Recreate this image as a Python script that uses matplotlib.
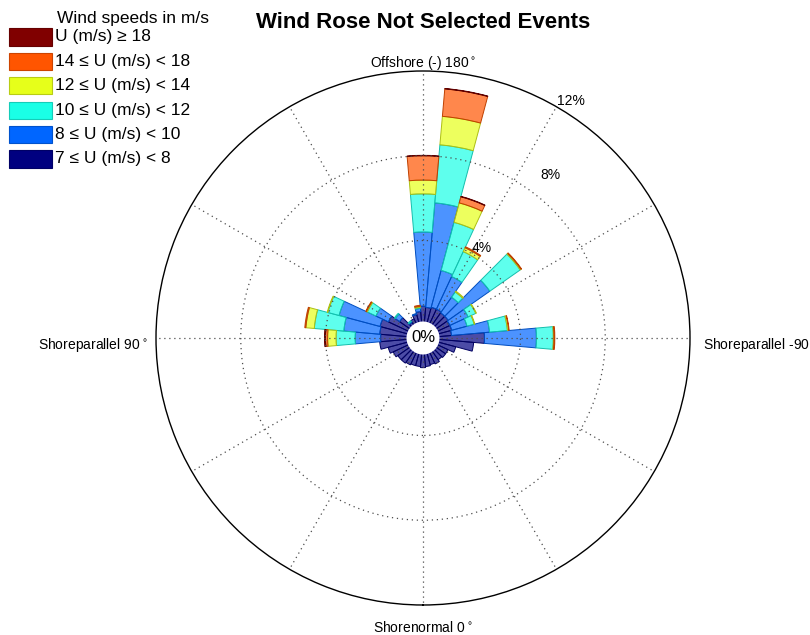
import numpy as np
import matplotlib
matplotlib.use("Agg")
import matplotlib.pyplot as plt
from matplotlib.patches import Rectangle, Circle
from matplotlib.colors import to_rgba

plt.rcParams['font.family'] = ['Liberation Sans', 'DejaVu Sans']

# direction bins (deg), 10 deg sectors
directions = np.arange(0, 360, 10)

# frequency (%) per direction for each speed class
freq_7_8 = [0.8, 0.75, 0.75, 0.8, 0.85, 0.85, 0.95, 1.1, 1.45, 1.4,
            1.45, 1.5, 1.2, 0.75, 0.3, 0.4, 0.55, 0.65, 0.9, 0.85,
            0.9, 0.9, 0.85, 0.85, 0.8, 0.8, 0.75, 2.3, 1.8, 1.0,
            0.7, 0.7, 0.65, 0.75, 0.7, 0.75]
freq_8_10 = [0, 0, 0, 0, 0, 0, 0, 0, 0, 1.2,
             1.7, 2.0, 0.65, 0.25, 0.05, 0, 0.05, 0.15, 3.5, 4.95,
             1.8, 1.7, 0.9, 2.4, 0.95, 0.75, 1.8, 2.45, 0, 0,
             0, 0, 0, 0, 0, 0]
freq_10_12 = [0, 0, 0, 0, 0, 0, 0, 0, 0, 0.9,
              1.4, 0.55, 0.45, 0.05, 0.05, 0, 0, 0.05, 1.8, 2.75,
              2.35, 1.3, 0.3, 1.75, 0.4, 0.35, 0.85, 0.8, 0, 0,
              0, 0, 0, 0, 0, 0]
freq_12_14 = [0, 0, 0, 0, 0, 0, 0, 0, 0, 0.4,
              0.4, 0.03, 0.05, 0, 0, 0, 0, 0.05, 0.65, 1.35,
              0.95, 0.2, 0.05, 0.05, 0.03, 0.03, 0.06, 0.03, 0, 0,
              0, 0, 0, 0, 0, 0]
freq_14_18 = [0, 0, 0, 0, 0, 0, 0, 0, 0, 0.1,
              0.05, 0, 0.03, 0, 0, 0, 0, 0.05, 1.15, 1.3,
              0.3, 0.05, 0, 0.03, 0, 0, 0.02, 0.04, 0, 0,
              0, 0, 0, 0, 0, 0]
freq_18 = [0, 0, 0, 0, 0, 0, 0, 0, 0, 0.05,
           0, 0, 0, 0, 0, 0, 0, 0, 0.02, 0.02,
           0.02, 0, 0, 0, 0, 0, 0, 0, 0, 0,
           0, 0, 0, 0, 0, 0]

classes = [freq_7_8, freq_8_10, freq_10_12, freq_12_14, freq_14_18, freq_18]
class_colors = ["#000080", "#0066ff", "#1affe6", "#e6ff1a", "#ff5500", "#800000"]
class_labels = ["7 \u2264 U (m/s) < 8", "8 \u2264 U (m/s) < 10",
                "10 \u2264 U (m/s) < 12", "12 \u2264 U (m/s) < 14",
                "14 \u2264 U (m/s) < 18", "U (m/s) \u2265 18"]
ring_values = [4, 8, 12]

fig = plt.figure(figsize=(8.1, 6.35), dpi=100)
W, H = 810, 635
cx, cy, R = 423, 338, 267
ax = fig.add_axes([(cx - R) / W, (H - cy - R) / H, 2 * R / W, 2 * R / H],
                  projection="polar")
ax.set_theta_zero_location("S")
ax.set_theta_direction(-1)
ax.set_rorigin(-0.6)
ax.set_ylim(0, 12)

theta = np.deg2rad(directions)
width = np.deg2rad(10)
bottom = np.zeros(len(directions))
for vals, col in zip(classes, class_colors):
    vals = np.asarray(vals, dtype=float)
    m = vals > 0
    edge = tuple(np.array(to_rgba(col)[:3]) * 0.75)
    ax.bar(theta[m], vals[m], width=width, bottom=bottom[m],
           facecolor=to_rgba(col, 0.7), edgecolor=edge, linewidth=0.7,
           zorder=2)
    bottom += vals

# grid
ax.set_thetagrids(np.arange(0, 360, 30), labels=[""] * 12)
ax.set_rgrids([4, 8], labels=["", ""])
ax.grid(True, linestyle=(0, (1, 3)), color="0.3", linewidth=0.9, zorder=3)
ax.set_axisbelow(False)
ax.spines["polar"].set_linewidth(1.0)
ax.spines["polar"].set_color("black")
ax.spines["inner"].set_visible(False)
ax.tick_params(length=0)

# white disk in the middle (outside the annular clip of the axes)
ax.add_artist(Circle((0.5, 0.5), 16.5 / (2 * R), transform=ax.transAxes,
                     facecolor="white", edgecolor="none", zorder=4,
                     clip_on=False))
ax.text(0.5, 0.5, "0%", transform=ax.transAxes, fontsize=12,
        ha="center", va="center", zorder=5, clip_on=False)

# ring labels
ring_pos = [(213, 4.45), (218, 9.15), (212, 12.6)]
for val, (ang, r) in zip(ring_values, ring_pos):
    ax.text(np.deg2rad(ang), r, f"{val}%", fontsize=10, ha="center",
            va="center", zorder=5)

# direction labels
fig.text(cx / W, 1 - 63 / H, r"Offshore (-) 180$^\circ$", fontsize=10,
         ha="center", va="center")
fig.text(148 / W, 1 - 345 / H, r"Shoreparallel 90$^\circ$", fontsize=10,
         ha="right", va="center")
fig.text(703 / W, 1 - 345 / H, r"Shoreparallel -90$^\circ$", fontsize=10,
         ha="left", va="center")
fig.text(cx / W, 1 - 627 / H, r"Shorenormal 0$^\circ$", fontsize=10,
         ha="center", va="center")

fig.text(cx / W, 1 - 22 / H, "Wind Rose Not Selected Events", fontsize=16,
         fontweight="bold", ha="center", va="center")

# legend, highest class on top
fig.text(57 / W, 1 - 18 / H, "Wind speeds in m/s", fontsize=12.5,
         ha="left", va="center")
for i, (col, lab) in enumerate(zip(class_colors[::-1], class_labels[::-1])):
    yc = 37 + 24.4 * i
    edge = tuple(np.array(to_rgba(col)[:3]) * 0.8)
    fig.add_artist(Rectangle((9 / W, 1 - (yc + 8.5) / H), 43 / W, 17 / H,
                             transform=fig.transFigure, facecolor=col,
                             edgecolor=edge, linewidth=0.8))
    fig.text(55 / W, 1 - yc / H, lab, fontsize=12.5, ha="left", va="center")

fig.savefig("out.png", dpi=100)
